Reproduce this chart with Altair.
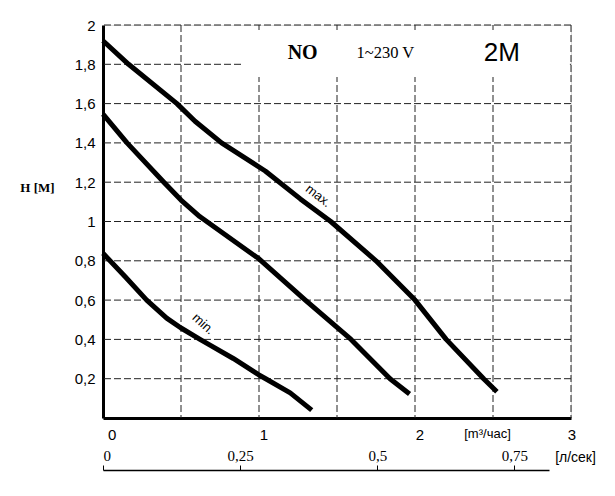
import altair as alt
import pandas as pd

# ---- data ----
flow_max = [0, 0.164, 0.474, 0.59, 0.76, 1.04, 1.265, 1.46, 1.75, 2.0, 2.2, 2.44, 2.525]
head_max = [1.92, 1.8, 1.6, 1.51, 1.4, 1.257, 1.115, 1.0, 0.8, 0.6, 0.4, 0.2, 0.134]
flow_mid = [0, 0.154, 0.39, 0.5, 0.62, 1.0, 1.297, 1.59, 1.84, 1.965]
head_mid = [1.546, 1.4, 1.2, 1.109, 1.025, 0.81, 0.6, 0.4, 0.2, 0.122]
flow_min = [0, 0.141, 0.28, 0.408, 0.5, 0.622, 0.686, 0.835, 1.0, 1.043, 1.2, 1.338]
head_min = [0.838, 0.72, 0.6, 0.508, 0.458, 0.4, 0.371, 0.303, 0.219, 0.2, 0.128, 0.04]

x_grid = [0.5, 1, 1.5, 2, 2.5, 3]
y_grid = [0.2, 0.4, 0.6, 0.8, 1, 1.2, 1.4, 1.6, 1.8, 2]
x_labels = [0, 1, 2, 3]
y_labels = [0.2, 0.4, 0.6, 0.8, 1, 1.2, 1.4, 1.6, 1.8, 2]
ls_ticks = [0, 0.25, 0.5, 0.75]

curve_labels = ["max.", "min."]
curve_label_x = [1.38, 0.643]
curve_label_y = [1.13, 0.478]
curve_label_angle = [38, 42]

# white label box over the grid
box_x, box_x2, box_y, box_y2 = [0.893], [2.993], [1.736], [1.975]

rows = []
for name, fx, hy in [("max", flow_max, head_max), ("mid", flow_mid, head_mid), ("min", flow_min, head_min)]:
    for a, b in zip(fx, hy):
        rows.append({"series": name, "Q": a, "H": b})
curves = pd.DataFrame(rows)

SANS = "Liberation Sans"
SERIF = "Liberation Serif"

xscale = alt.Scale(domain=[0, 3], nice=False, zero=False)
yscale = alt.Scale(domain=[0, 2], nice=False, zero=False)

xaxis = alt.Axis(
    values=x_labels, format="d", labelOverlap=False,
    labelFont=SANS, labelFontSize=15, labelColor="black", labelPadding=9, labelOffset=4.5,
    ticks=False, domainColor="black", domainWidth=3, grid=False,
    title="[m³/час]", titleFont=SANS, titleFontSize=13, titleFontWeight="normal",
    titleColor="black", titleX=384, titleY=15, titleAlign="center", titleBaseline="middle",
    titleAngle=0,
)
yaxis = alt.Axis(
    values=y_labels, labelOverlap=False,
    labelExpr="replace(format(datum.value, '~g'), '.', ',')",
    labelFont=SANS, labelFontSize=15, labelColor="black", labelPadding=8,
    ticks=False, domainColor="black", domainWidth=3, grid=False,
    title="H [M]", titleFont=SERIF, titleFontSize=13, titleFontWeight="bold",
    titleColor="black", titleAngle=0, titleX=-66, titleY=162,
    titleAlign="center", titleBaseline="middle",
)

def X(field):
    return alt.X(field, type="quantitative", scale=xscale, axis=xaxis)

def Y(field):
    return alt.Y(field, type="quantitative", scale=yscale, axis=yaxis)

grid_style = dict(color="#222", strokeWidth=1, strokeDash=[7, 3])
vgrid = alt.Chart(pd.DataFrame({"g": x_grid})).mark_rule(**grid_style).encode(x=X("g"))
hgrid = alt.Chart(pd.DataFrame({"g": y_grid})).mark_rule(**grid_style).encode(y=Y("g"))

lines = alt.Chart(curves).mark_line(
    color="black", strokeWidth=5, interpolate="linear", strokeJoin="round"
).encode(x=X("Q"), y=Y("H"), detail="series:N")

box = alt.Chart(pd.DataFrame({"x": box_x, "x2": box_x2, "y": box_y, "y2": box_y2})).mark_rect(
    color="white"
).encode(x=X("x"), x2="x2:Q", y=Y("y"), y2="y2:Q")

def label(txt, xv, yv, font, size, weight="normal", angle=0):
    return alt.Chart(pd.DataFrame({"t": [txt], "x": [xv], "y": [yv]})).mark_text(
        font=font, fontSize=size, fontWeight=weight, color="black",
        align="center", baseline="middle", angle=angle
    ).encode(x=X("x"), y=Y("y"), text="t:N")

t_no = label("NO", 1.28, 1.856, SERIF, 20, "bold")
t_volt = label("1~230 V", 1.81, 1.86, SERIF, 16.5)
t_2m = label("2M", 2.556, 1.855, SANS, 26)
t_max = label(curve_labels[0], curve_label_x[0], curve_label_y[0], SANS, 13, angle=curve_label_angle[0])
t_min = label(curve_labels[1], curve_label_x[1], curve_label_y[1], SANS, 13, angle=curve_label_angle[1])

main = alt.layer(vgrid, hgrid, box, lines, t_no, t_volt, t_2m, t_max, t_min)

sec = alt.Chart(pd.DataFrame({"ls": ls_ticks})).mark_rule(opacity=0).encode(
    x=alt.X("ls:Q",
            scale=alt.Scale(domain=[0, 0.813], range=[0, 446], nice=False, zero=False),
            axis=alt.Axis(
                orient="top", offset=-445, values=ls_ticks, labelOverlap=False,
                labelExpr="replace(format(datum.value, '~g'), '.', ',')",
                labelFont=SERIF, labelFontSize=15, labelColor="black", labelPadding=2,
                ticks=True, tickSize=5, tickColor="black", tickWidth=1,
                domainColor="black", domainWidth=1.3, grid=False,
                title="[л/сек]", titleFont=SANS, titleFontSize=14, titleFontWeight="normal",
                titleColor="black", titleAngle=0, titleX=472, titleY=-13,
                titleAlign="center", titleBaseline="middle",
            ))
)

chart = alt.layer(main, sec).resolve_scale(x="independent").properties(
    width=468, height=393,
    padding={"left": 95, "top": 17, "right": 36, "bottom": 70},
    autosize=alt.AutoSizeParams(type="none"),
).configure_view(strokeWidth=0).configure(background="white")

chart.save("out.html", embed_options={"renderer": "svg", "actions": False})
